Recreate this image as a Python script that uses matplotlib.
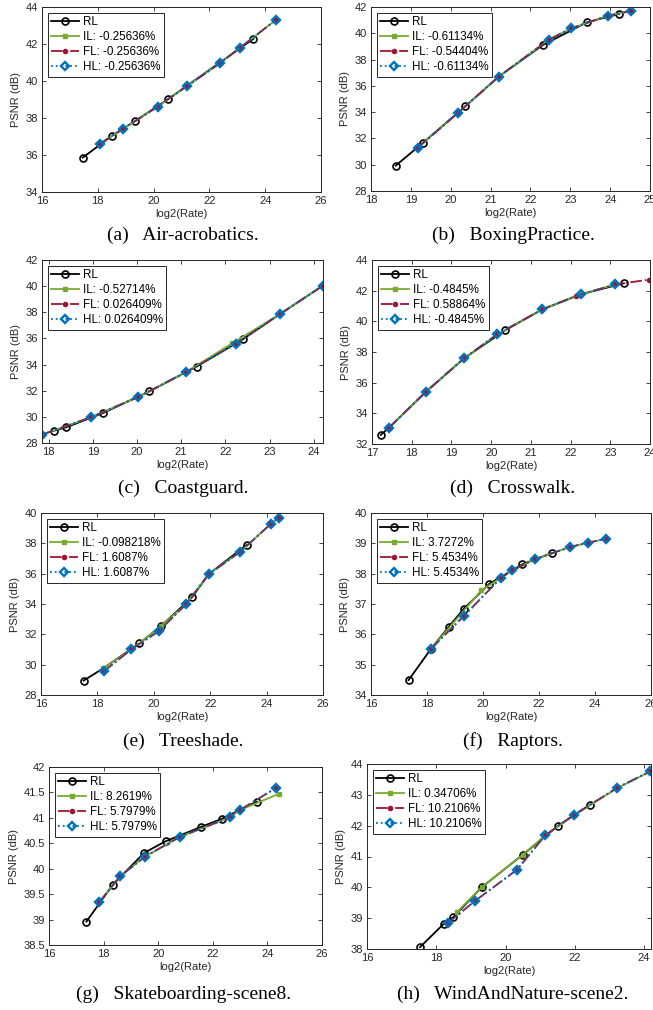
import matplotlib.pyplot as plt
import numpy as np
from matplotlib.ticker import MultipleLocator, FormatStrFormatter

plt.rcParams['font.family'] = ['Liberation Sans', 'DejaVu Sans']
plt.rcParams['font.size'] = 8

# (a) Air-acrobatics
rl_x_a = [17.46, 18.51, 19.35, 20.51, 23.58]
rl_y_a = [35.86, 37.04, 37.85, 39.01, 42.28]
il_x_a = [18.09, 18.92, 20.14, 21.20, 22.38, 23.08, 24.39]
il_y_a = [36.62, 37.43, 38.61, 39.73, 40.96, 41.78, 43.31]
fl_x_a = [18.09, 18.92, 20.14, 21.20, 22.38, 23.08, 24.39]
fl_y_a = [36.62, 37.43, 38.61, 39.73, 40.96, 41.78, 43.31]
hl_x_a = [18.09, 18.92, 20.14, 21.20, 22.38, 23.08, 24.39]
hl_y_a = [36.62, 37.43, 38.61, 39.73, 40.96, 41.78, 43.31]

# (b) BoxingPractice
rl_x_b = [18.62, 19.31, 20.36, 21.20, 22.31, 23.41, 24.22]
rl_y_b = [29.93, 31.68, 34.43, 36.69, 39.10, 40.83, 41.47]
il_x_b = [19.17, 20.19, 21.20, 22.46, 23.02, 23.94, 24.52]
il_y_b = [31.28, 33.97, 36.69, 39.51, 40.37, 41.34, 41.69]
fl_x_b = [19.17, 20.19, 21.20, 22.46, 23.02, 23.94, 24.52]
fl_y_b = [31.28, 33.97, 36.69, 39.51, 40.37, 41.34, 41.69]
hl_x_b = [19.17, 20.19, 21.20, 22.46, 23.02, 23.94, 24.52]
hl_y_b = [31.28, 33.97, 36.69, 39.51, 40.37, 41.34, 41.69]

# (c) Coastguard
rl_x_c = [18.12, 18.40, 19.23, 20.28, 21.35, 22.41, 23.23, 24.21]
rl_y_c = [28.94, 29.20, 30.29, 31.95, 33.85, 35.97, 37.85, 40.04]
il_x_c = [17.85, 18.95, 20.02, 21.11, 22.15, 23.23, 24.21]
il_y_c = [28.64, 29.96, 31.51, 33.42, 35.62, 37.85, 40.04]
fl_x_c = [17.85, 18.95, 20.02, 21.11, 22.23, 23.23, 24.21]
fl_y_c = [28.64, 29.96, 31.51, 33.42, 35.58, 37.85, 40.04]
hl_x_c = [17.85, 18.95, 20.02, 21.11, 22.23, 23.23, 24.21]
hl_y_c = [28.64, 29.96, 31.51, 33.42, 35.58, 37.85, 40.04]

# (d) Crosswalk
rl_x_d = [17.22, 17.43, 18.36, 19.32, 20.36, 21.29, 22.26, 23.34]
rl_y_d = [32.59, 33.07, 35.41, 37.59, 39.43, 40.78, 41.76, 42.48]
rl_mark_d = [0, 4, 7]
il_x_d = [17.43, 18.36, 19.32, 20.15, 21.29, 22.26, 23.13]
il_y_d = [33.07, 35.41, 37.59, 39.15, 40.78, 41.76, 42.41]
fl_x_d = [17.43, 18.36, 19.32, 20.15, 21.29, 22.13, 23.13, 23.98]
fl_y_d = [33.07, 35.41, 37.59, 39.15, 40.78, 41.65, 42.41, 42.72]
hl_x_d = [17.43, 18.36, 19.32, 20.15, 21.29, 22.26, 23.13]
hl_y_d = [33.07, 35.41, 37.59, 39.15, 40.78, 41.76, 42.41]

# (e) Treeshade
rl_x_e = [17.51, 18.21, 19.49, 20.25, 21.35, 21.95, 23.30]
rl_y_e = [28.95, 29.76, 31.41, 32.54, 34.43, 35.97, 37.91]
rl_mark_e = [0, 2, 3, 4, 6]
il_x_e = [18.21, 19.20, 20.25, 21.14, 21.95, 23.07, 24.16, 24.43]
il_y_e = [29.76, 31.00, 32.54, 33.98, 35.97, 37.45, 39.30, 39.70]
fl_x_e = [18.22, 19.20, 20.17, 21.14, 21.95, 23.07, 24.16, 24.43]
fl_y_e = [29.55, 31.00, 32.20, 33.98, 35.97, 37.45, 39.30, 39.70]
hl_x_e = [18.22, 19.20, 20.17, 21.14, 21.95, 23.07, 24.16, 24.43]
hl_y_e = [29.55, 31.00, 32.20, 33.98, 35.97, 37.45, 39.30, 39.70]

# (f) Raptors
rl_x_f = [17.34, 18.15, 18.77, 19.31, 20.23, 21.41, 22.46]
rl_y_f = [34.49, 35.53, 36.24, 36.84, 37.67, 38.31, 38.68]
il_x_f = [18.15, 19.94, 20.65, 21.05, 21.84, 23.11, 23.76, 24.39]
il_y_f = [35.53, 37.45, 37.87, 38.11, 38.47, 38.88, 39.02, 39.15]
fl_x_f = [18.15, 19.31, 20.65, 21.05, 21.84, 23.11, 23.76, 24.39]
fl_y_f = [35.53, 36.60, 37.87, 38.11, 38.47, 38.88, 39.02, 39.15]
hl_x_f = [18.15, 19.31, 20.65, 21.05, 21.84, 23.11, 23.76, 24.39]
hl_y_f = [35.53, 36.60, 37.87, 38.11, 38.47, 38.88, 39.02, 39.15]

# (g) Skateboarding-scene8
rl_x_g = [17.37, 18.33, 19.48, 20.27, 21.56, 22.33, 23.61]
rl_y_g = [38.96, 39.68, 40.31, 40.54, 40.82, 40.98, 41.32]
il_x_g = [17.84, 18.60, 19.52, 20.81, 22.63, 22.98, 24.41]
il_y_g = [39.34, 39.85, 40.24, 40.63, 41.01, 41.15, 41.47]
fl_x_g = [17.84, 18.60, 19.52, 20.81, 22.63, 22.98, 24.32]
fl_y_g = [39.34, 39.85, 40.24, 40.63, 41.01, 41.15, 41.59]
hl_x_g = [17.84, 18.60, 19.52, 20.81, 22.63, 22.98, 24.32]
hl_y_g = [39.34, 39.85, 40.24, 40.63, 41.01, 41.15, 41.59]

# (h) WindAndNature-scene2
rl_x_h = [17.53, 18.22, 18.49, 19.31, 20.49, 21.51, 22.43]
rl_y_h = [38.06, 38.82, 39.03, 40.00, 41.05, 41.99, 42.67]
il_x_h = [18.59, 19.31, 20.49, 21.15, 21.97, 23.23, 24.17]
il_y_h = [39.19, 40.00, 41.05, 41.69, 42.33, 43.22, 43.75]
fl_x_h = [18.33, 19.12, 20.33, 21.15, 21.97, 23.23, 24.17]
fl_y_h = [38.84, 39.56, 40.57, 41.69, 42.35, 43.23, 43.76]
hl_x_h = [18.33, 19.12, 20.33, 21.15, 21.97, 23.23, 24.17]
hl_y_h = [38.84, 39.56, 40.57, 41.69, 42.35, 43.23, 43.76]

il_labels = ['-0.25636%', '-0.61134%', '-0.52714%', '-0.4845%', '-0.098218%', '3.7272%', '8.2619%', '0.34706%']
fl_labels = ['-0.25636%', '-0.54404%', '0.026409%', '0.58864%', '1.6087%', '5.4534%', '5.7979%', '10.2106%']
hl_labels = ['-0.25636%', '-0.61134%', '0.026409%', '-0.4845%', '1.6087%', '5.4534%', '5.7979%', '10.2106%']
captions = ['(a)   Air-acrobatics.', '(b)   BoxingPractice.', '(c)   Coastguard.', '(d)   Crosswalk.',
            '(e)   Treeshade.', '(f)   Raptors.', '(g)   Skateboarding-scene8.', '(h)   WindAndNature-scene2.']

green = '#77AC30'
red = '#A2142F'
blue = '#0072BD'
axcol = '#262626'

fig = plt.figure(figsize=(6.53, 10.1), dpi=100)

# axes boxes in pixels: left, top, right, bottom
boxes = [(42, 7, 321, 192), (371, 7, 650, 191),
         (42, 260, 323, 443), (372, 260, 650, 444),
         (41, 513, 323, 695), (371, 513, 651, 695),
         (49, 767, 322, 945), (367, 764, 651, 949)]
xlims = [(16, 26), (18, 25), (17.85, 24.21), (17, 24), (16, 26), (16, 26), (16, 26), (16, 24.2)]
ylims = [(34, 44), (28, 42), (28, 42), (32, 44), (28, 40), (34, 40), (38.5, 42), (38, 44)]
xsteps = [2, 1, 1, 1, 2, 2, 2, 2]
ysteps = [2, 2, 2, 2, 2, 1, 0.5, 1]

data = [
    (rl_x_a, rl_y_a, None, il_x_a, il_y_a, fl_x_a, fl_y_a, hl_x_a, hl_y_a),
    (rl_x_b, rl_y_b, [0, 1, 2, 4, 5, 6], il_x_b, il_y_b, fl_x_b, fl_y_b, hl_x_b, hl_y_b),
    (rl_x_c, rl_y_c, [0, 1, 2, 3, 4, 5], il_x_c, il_y_c, fl_x_c, fl_y_c, hl_x_c, hl_y_c),
    (rl_x_d, rl_y_d, rl_mark_d, il_x_d, il_y_d, fl_x_d, fl_y_d, hl_x_d, hl_y_d),
    (rl_x_e, rl_y_e, rl_mark_e, il_x_e, il_y_e, fl_x_e, fl_y_e, hl_x_e, hl_y_e),
    (rl_x_f, rl_y_f, None, il_x_f, il_y_f, fl_x_f, fl_y_f, hl_x_f, hl_y_f),
    (rl_x_g, rl_y_g, None, il_x_g, il_y_g, fl_x_g, fl_y_g, hl_x_g, hl_y_g),
    (rl_x_h, rl_y_h, None, il_x_h, il_y_h, fl_x_h, fl_y_h, hl_x_h, hl_y_h),
]

W, H = 653.0, 1010.0
for i in range(8):
    l, t, r, b = boxes[i]
    ax = fig.add_axes([l / W, 1 - b / H, (r - l) / W, (b - t) / H])
    rx, ry, rmark, ix, iy, fx, fy, hx, hy = data[i]

    ax.plot(rx, ry, '-o', color='k', lw=1.3, ms=5, mfc='none', mew=1.2, markevery=rmark, label='RL')
    ax.plot(ix, iy, '-s', color=green, lw=1.3, ms=3, label='IL: ' + il_labels[i])
    ax.plot(fx, fy, '-.', color=red, lw=1.3, marker='o', ms=3, label='FL: ' + fl_labels[i])
    ax.plot(hx, hy, ':', color=blue, lw=1.3, marker='D', ms=4.2, mfc='none', mew=1.7, label='HL: ' + hl_labels[i])

    ax.set_xlim(xlims[i])
    ax.set_ylim(ylims[i])
    ax.xaxis.set_major_locator(MultipleLocator(xsteps[i]))
    ax.yaxis.set_major_locator(MultipleLocator(ysteps[i]))
    ax.yaxis.set_major_formatter(FormatStrFormatter('%g'))
    ax.xaxis.set_major_formatter(FormatStrFormatter('%g'))
    ax.tick_params(direction='in', length=3, width=0.6, colors=axcol, labelsize=8,
                   top=True, right=True, pad=3)
    for s in ax.spines.values():
        s.set_color(axcol)
        s.set_linewidth(0.7)
    ax.set_xlabel('log2(Rate)', fontsize=8, color=axcol, labelpad=2)
    ax.set_ylabel('PSNR (dB)', fontsize=8, color=axcol, labelpad=3)

    leg = ax.legend(loc='upper left', fontsize=8.4, fancybox=False, framealpha=1,
                    edgecolor=axcol, borderaxespad=0.5, handlelength=2.4,
                    handletextpad=0.3, labelspacing=0.25, borderpad=0.3)
    leg.get_frame().set_linewidth(0.7)

    cx = 183 if i % 2 == 0 else 513
    cy = [235, 488, 741, 994][i // 2]
    fig.text(cx / W, 1 - cy / H, captions[i], ha='center', va='center',
             fontsize=14, family='Liberation Serif')

plt.savefig('out.png', dpi=100)
